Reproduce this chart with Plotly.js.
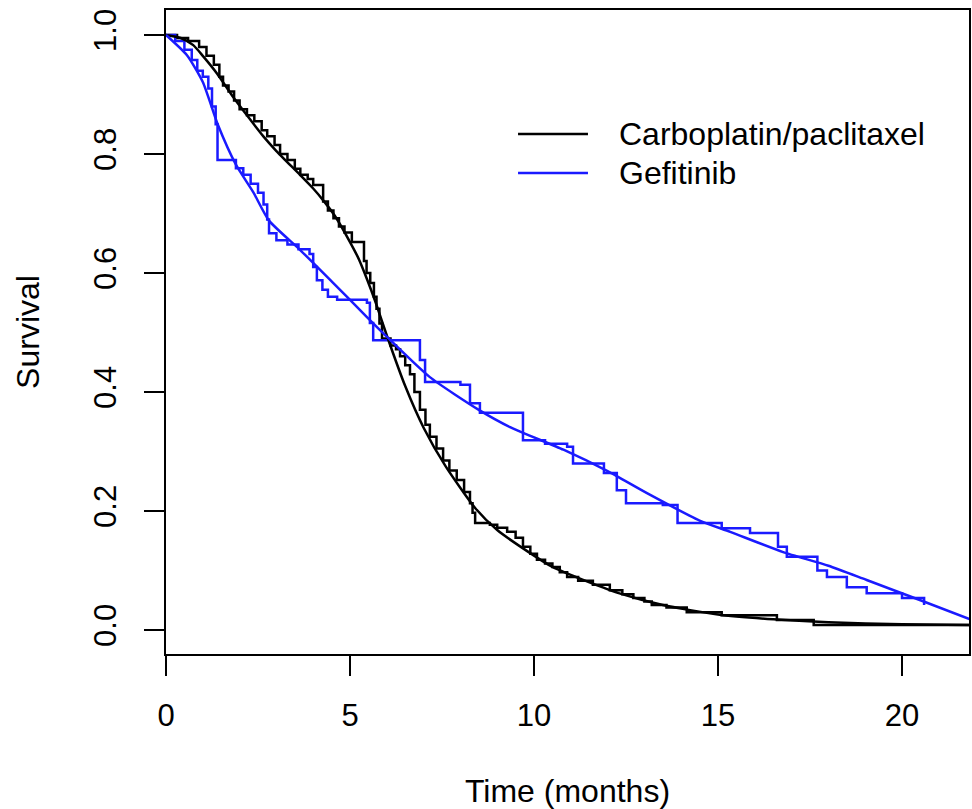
<!DOCTYPE html>
<html>
<head>
<meta charset="utf-8">
<script src="https://cdn.plot.ly/plotly-3.0.1.min.js"></script>
<style>html,body{margin:0;padding:0;background:#fff;}#chart{width:972px;height:809px;}</style>
</head>
<body>
<div id="chart"></div>
<script>
// Kaplan-Meier (step) data: Carboplatin/paclitaxel
const carboKmTime = [0,0.3,0.6,0.9,1.1,1.3,1.45,1.55,1.7,1.85,2.0,2.2,2.4,2.6,2.75,2.95,3.1,3.3,3.5,3.65,3.85,4.0,4.27,4.4,4.55,4.7,4.85,5.05,5.38,5.45,5.55,5.65,5.72,5.8,5.87,6.1,6.25,6.36,6.5,6.63,6.75,6.9,7.05,7.17,7.35,7.53,7.7,7.9,8.1,8.26,8.33,8.4,8.8,9.0,9.27,9.5,9.7,9.9,10.08,10.3,10.5,10.7,10.9,11.2,11.6,12.06,12.4,12.7,13.0,13.2,13.6,14.15,15.1,16.6,17.6,21.85];
const carboKmSurv = [1,0.995,0.99,0.98,0.965,0.95,0.93,0.915,0.905,0.89,0.875,0.865,0.855,0.84,0.83,0.815,0.80,0.79,0.775,0.765,0.758,0.748,0.72,0.705,0.692,0.678,0.668,0.652,0.62,0.60,0.583,0.56,0.54,0.515,0.49,0.478,0.472,0.46,0.445,0.43,0.40,0.37,0.345,0.325,0.305,0.285,0.268,0.252,0.232,0.213,0.197,0.18,0.177,0.172,0.165,0.155,0.14,0.128,0.118,0.112,0.106,0.097,0.089,0.083,0.076,0.067,0.06,0.054,0.048,0.042,0.038,0.030,0.025,0.017,0.0084,0.0084];
// Fitted smooth curve: Carboplatin/paclitaxel
const carboFitTime = [0,0.4,0.74,1.0,1.39,1.8,2.2,2.64,3.0,3.64,4.0,4.3,4.6,5.0,5.25,5.46,5.7,6.0,6.5,7.0,7.6,8.4,9.0,10.0,10.5,11.3,12.3,13.5,15.0,16.5,18.0,20.0,21.85];
const carboFitSurv = [1,0.995,0.983,0.965,0.935,0.898,0.865,0.83,0.805,0.765,0.742,0.72,0.695,0.652,0.622,0.59,0.55,0.495,0.41,0.34,0.275,0.205,0.168,0.125,0.106,0.085,0.062,0.042,0.026,0.018,0.013,0.0095,0.0084];
// Kaplan-Meier (step) data: Gefitinib
const gefKmTime = [0,0.25,0.5,0.7,0.85,1.0,1.15,1.25,1.35,1.4,1.9,2.1,2.3,2.5,2.65,2.75,2.8,3.0,3.3,3.6,3.9,4.0,4.1,4.25,4.4,4.65,5.46,5.54,5.63,6.63,6.9,7.04,8.0,8.26,8.53,9.35,9.7,10.3,10.9,11.06,11.9,12.25,12.5,13.5,13.9,15.1,15.87,16.63,16.87,17.7,17.96,18.5,19.04,20.0,20.6];
const gefKmSurv = [1,0.99,0.975,0.958,0.94,0.93,0.91,0.88,0.85,0.79,0.776,0.765,0.75,0.735,0.715,0.69,0.667,0.655,0.648,0.64,0.632,0.61,0.588,0.572,0.56,0.555,0.55,0.516,0.487,0.487,0.454,0.417,0.412,0.381,0.365,0.365,0.319,0.313,0.308,0.28,0.264,0.235,0.213,0.21,0.18,0.171,0.163,0.14,0.123,0.10,0.089,0.072,0.062,0.054,0.042];
// Fitted smooth curve: Gefitinib
const gefFitTime = [0,0.57,1.0,1.41,1.9,2.37,2.8,3.64,4.5,5.46,6.05,7.17,8.5,9.35,10.8,12.0,13.07,14.5,15.33,16.77,18.0,19.04,20.5,21.85];
const gefFitSurv = [1,0.966,0.921,0.849,0.782,0.736,0.688,0.639,0.586,0.526,0.49,0.425,0.37,0.341,0.303,0.267,0.23,0.184,0.165,0.131,0.108,0.084,0.05,0.018];

const seriesNames = ['Carboplatin/paclitaxel', 'Gefitinib'];
const xTicks = [0, 5, 10, 15, 20];
const yTicks = [0, 0.2, 0.4, 0.6, 0.8, 1.0];
const yTickLabels = ['0.0', '0.2', '0.4', '0.6', '0.8', '1.0'];

const BLACK = '#000000';
const BLUE = '#1a1aff';
const COLORS = [BLACK, BLUE];
const FONT = 'Liberation Sans, Arial, Helvetica, sans-serif';

const traces = [
  {x: carboKmTime, y: carboKmSurv, type: 'scatter', mode: 'lines', line: {color: BLACK, width: 2.5, shape: 'hv'}, name: seriesNames[0] + ' (KM)', showlegend: false},
  {x: gefKmTime, y: gefKmSurv, type: 'scatter', mode: 'lines', line: {color: BLUE, width: 2.5, shape: 'hv'}, name: seriesNames[1] + ' (KM)', showlegend: false},
  {x: carboFitTime, y: carboFitSurv, type: 'scatter', mode: 'lines', line: {color: BLACK, width: 2.5, shape: 'spline', smoothing: 0.6}, name: seriesNames[0], showlegend: false},
  {x: gefFitTime, y: gefFitSurv, type: 'scatter', mode: 'lines', line: {color: BLUE, width: 2.5, shape: 'spline', smoothing: 0.6}, name: seriesNames[1], showlegend: false}
];

// legend drawn as shapes + annotations (R-style legend with long line samples)
const legY = [0.8075, 0.7469];
const shapes = seriesNames.map((n, i) => ({
  type: 'line', xref: 'paper', yref: 'paper', x0: 0.4384, x1: 0.5255, y0: legY[i], y1: legY[i],
  line: {color: COLORS[i], width: 2.5}
}));
const annotations = seriesNames.map((n, i) => ({
  text: n, xref: 'paper', yref: 'paper', x: 0.5616, y: legY[i], xanchor: 'left', yanchor: 'middle',
  showarrow: false, font: {family: FONT, size: 32, color: '#000'}
}));

const layout = {
  width: 972, height: 809,
  margin: {l: 166, r: 3, t: 10, b: 155},
  paper_bgcolor: '#ffffff', plot_bgcolor: '#ffffff',
  font: {family: FONT, size: 32, color: '#000'},
  showlegend: false,
  shapes: shapes,
  annotations: annotations,
  xaxis: {
    range: [0, 21.82], tickvals: xTicks, ticktext: xTicks.map(String),
    showgrid: false, zeroline: false, showline: true, mirror: true, linecolor: '#000', linewidth: 2,
    ticks: 'outside', ticklen: 20, tickwidth: 2, tickcolor: '#000',
    tickfont: {family: FONT, size: 31}, ticklabelstandoff: 13,
    title: {text: 'Time (months)', font: {family: FONT, size: 32}, standoff: 56}
  },
  yaxis: {
    range: [-0.0403, 1.042], tickvals: yTicks, ticktext: yTickLabels,
    showgrid: false, zeroline: false, showline: true, mirror: true, linecolor: '#000', linewidth: 2,
    ticks: 'outside', ticklen: 20, tickwidth: 2, tickcolor: '#000',
    tickangle: -90, tickfont: {family: FONT, size: 31}, ticklabelstandoff: 16,
    title: {text: 'Survival', font: {family: FONT, size: 32}, standoff: 38}
  }
};

Plotly.newPlot('chart', traces, layout, {displayModeBar: false, responsive: false});
</script>
</body>
</html>
